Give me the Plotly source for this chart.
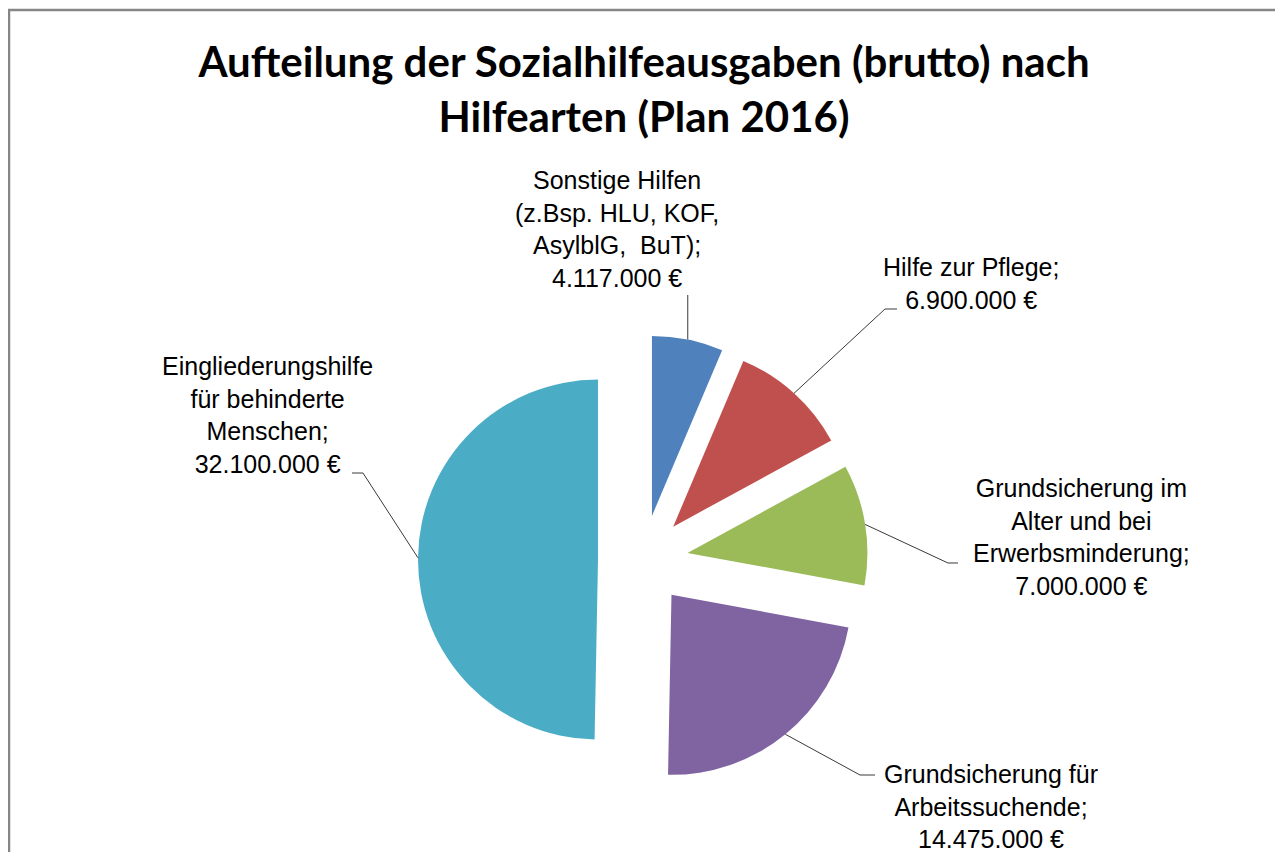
import math
import plotly.graph_objects as go

# ---------------- data ----------------
categories = [
    "Sonstige Hilfen (z.Bsp. HLU, KOF, AsylblG, BuT)",
    "Hilfe zur Pflege",
    "Grundsicherung im Alter und bei Erwerbsminderung",
    "Grundsicherung für Arbeitssuchende",
    "Eingliederungshilfe für behinderte Menschen",
]
values = [4117000, 6900000, 7000000, 14475000, 32100000]
label_lines = [
    ["Sonstige Hilfen", "(z.Bsp. HLU, KOF,", "AsylblG,  BuT);"],
    ["Hilfe zur Pflege;"],
    ["Grundsicherung im", "Alter und bei", "Erwerbsminderung;"],
    ["Grundsicherung für", "Arbeitssuchende;"],
    ["Eingliederungshilfe", "für behinderte", "Menschen;"],
]
colors = ["#4F81BD", "#C0504D", "#9BBB59", "#8064A2", "#4BACC6"]
title_text = "Aufteilung der Sozialhilfeausgaben (brutto) nach<br>Hilfearten (Plan 2016)"

# ---------------- layout constants (window pixels) ----------------
OFF = 8                      # page body margin of the browser
WIN_W, WIN_H = 1283, 852
W, H = WIN_W - OFF, WIN_H - OFF
CX, CY, R, PULL = 643, 560, 180, 0.25
label_pos = [(617, 229), (971, 284), (1081, 537), (991, 806), (267, 415)]
elbows = [
    [(None, 295)],
    [(885, 309), (897, 309)],
    [(948, 563), (958, 563)],
    [(860, 775), (875, 775)],
    [(363, 473), (352, 473)],
]
TITLE_X, TITLE_Y = 644, 77


def px(x, y):
    return (x - OFF) / W, 1 - (y - OFF) / H


def fmt_eur(v):
    return f"{v:,}".replace(",", ".") + " €"


half = R * (1 + PULL)
x0, y1 = px(CX - half, CY - half)
x1, y0 = px(CX + half, CY + half)

fig = go.Figure(
    go.Pie(
        labels=categories,
        values=values,
        sort=False,
        direction="clockwise",
        rotation=0,
        pull=[PULL] * len(values),
        marker=dict(colors=colors, line=dict(width=0)),
        textinfo="none",
        hoverinfo="label+value",
        showlegend=False,
        domain=dict(x=[x0, x1], y=[y0, y1]),
    )
)

# leader lines + labels
total = sum(values)
cum = 0
shapes = []
annotations = []
for i, v in enumerate(values):
    mid = (cum + v / 2) / total * 2 * math.pi
    cum += v
    ax = CX + half * math.sin(mid)
    ay = CY - half * math.cos(mid)
    pts = [(ax, ay)]
    for ex, ey in elbows[i]:
        pts.append((ax if ex is None else ex, ey))
    path = ""
    for k, (x, y) in enumerate(pts):
        fx, fy = px(x, y)
        path += ("M" if k == 0 else " L") + f" {fx:.5f},{fy:.5f}"
    shapes.append(dict(type="path", xref="paper", yref="paper", path=path,
                       line=dict(color="#3a3a3a", width=1)))
    lx, ly = px(*label_pos[i])
    text = "<br>".join(label_lines[i] + [fmt_eur(v)])
    annotations.append(dict(
        x=lx, y=ly, xref="paper", yref="paper", xanchor="center", yanchor="middle",
        text=text, showarrow=False, align="center",
        font=dict(family="Liberation Sans, Arial, sans-serif", size=25, color="#000000"),
    ))

# chart border
bx0, by1 = px(9, 10)
bx1, _ = px(1279.5, 10)
shapes.append(dict(type="rect", xref="paper", yref="paper",
                   x0=bx0, x1=bx1, y0=-0.02, y1=by1,
                   line=dict(color="#868686", width=2.5)))

tx, ty = px(TITLE_X, TITLE_Y)
fig.update_layout(
    width=W, height=H,
    margin=dict(l=0, r=0, t=0, b=0),
    paper_bgcolor="white",
    plot_bgcolor="white",
    title=dict(text=title_text, x=tx, xanchor="center", xref="paper",
               y=ty, yref="container", yanchor="middle",
               font=dict(family="Lato, Carlito, sans-serif", size=42, color="#000000", weight="bold")),
    shapes=shapes,
    annotations=annotations,
)

fig.write_html("out.html")
